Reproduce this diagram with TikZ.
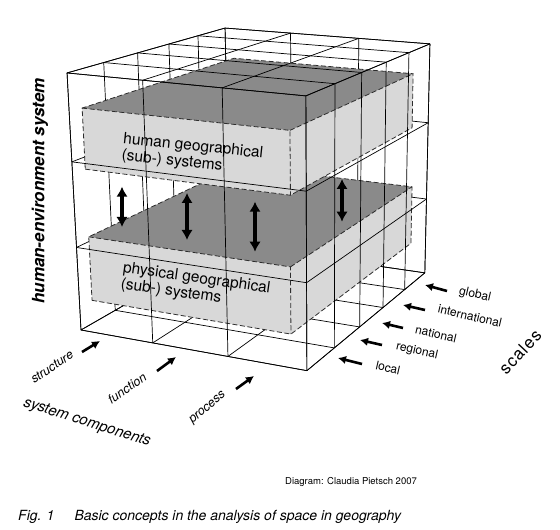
\documentclass[tikz,border=0pt]{standalone}
\usepackage{fontspec}
\setmainfont{TeX Gyre Heros}
\usetikzlibrary{arrows.meta}
\definecolor{topgray}{RGB}{138,138,138}
\definecolor{facegray}{RGB}{216,216,216}
\definecolor{edgegray}{RGB}{45,45,45}
\newcommand\cubept[3]{({px(#1,#2,#3)},{py(#1,#2,#3)})}
\newcommand\cubebox[6]{%
  \fill[facegray] \cubept{#1}{#3}{#5} -- \cubept{#2}{#3}{#5} -- \cubept{#2}{#3}{#6} -- \cubept{#1}{#3}{#6} -- cycle;
  \fill[facegray] \cubept{#2}{#3}{#5} -- \cubept{#2}{#4}{#5} -- \cubept{#2}{#4}{#6} -- \cubept{#2}{#3}{#6} -- cycle;
  \fill[topgray] \cubept{#1}{#3}{#6} -- \cubept{#2}{#3}{#6} -- \cubept{#2}{#4}{#6} -- \cubept{#1}{#4}{#6} -- cycle;
  \draw[boxedge] \cubept{#1}{#3}{#5} -- \cubept{#2}{#3}{#5} -- \cubept{#2}{#4}{#5} -- \cubept{#2}{#4}{#6} -- \cubept{#1}{#4}{#6} -- \cubept{#1}{#3}{#6} -- cycle;
  \draw[boxedge] \cubept{#1}{#3}{#6} -- \cubept{#2}{#3}{#6} -- \cubept{#2}{#3}{#5};
  \draw[boxedge] \cubept{#2}{#3}{#6} -- \cubept{#2}{#4}{#6};
}
\begin{document}
\begin{tikzpicture}[x=1pt,y=1pt,
  declare function={
    dd(\u,\v,\w)=1-0.0691*\u+0.1985*\v-0.05437*\w;
    px(\u,\v,\w)=(81+204.7*\u+194.1*\v-17.6*\w)/dd(\u,\v,\w);
    py(\u,\v,\w)=530-(330+15.06*\u-36.9*\v-261.0*\w)/dd(\u,\v,\w);
  },
  grid/.style={line width=0.7pt, black},
  boxedge/.style={line width=0.8pt, edgegray, dash pattern=on 5pt off 2.5pt},
  dbl/.style={line width=3.6pt, {Latex[length=10pt,width=11.5pt]}-{Latex[length=10pt,width=11.5pt]}},
  sarr/.style={line width=2.6pt, -{Latex[length=8pt,width=8.5pt]}},
  boxtxt/.style={font=\fontsize{15.5}{16.5}\selectfont, align=left, inner sep=0pt},
  comp/.style={font=\fontsize{12.5}{13}\selectfont\itshape, inner sep=0pt},
  scl/.style={font=\fontsize{12}{13}\selectfont, inner sep=0pt, rotate=-13},
]
\useasboundingbox (0,0) rectangle (560,530);
% hidden faces of the cube
\foreach \a in {0,1/3,2/3,1} {
  \draw[grid] \cubept{\a}{1}{0} -- \cubept{\a}{1}{1};
  \draw[grid] \cubept{0}{1}{\a} -- \cubept{1}{1}{\a};
  \draw[grid] \cubept{0}{0}{\a} -- \cubept{0}{1}{\a};
  \draw[grid] \cubept{\a}{0}{0} -- \cubept{\a}{1}{0};
}
\foreach \b in {0,0.2,0.4,0.6,0.8,1} {
  \draw[grid] \cubept{0}{\b}{0} -- \cubept{0}{\b}{1};
  \draw[grid] \cubept{0}{\b}{0} -- \cubept{1}{\b}{0};
}
% the two system boxes
\cubebox{0.06}{0.935}{0}{0.99}{0.13}{0.383}
\cubebox{0.06}{0.937}{0}{0.975}{0.645}{0.875}
% visible faces of the cube
\foreach \a in {0,1/3,2/3,1} {
  \draw[grid] \cubept{\a}{0}{0} -- \cubept{\a}{0}{1};
  \draw[grid] \cubept{0}{0}{\a} -- \cubept{1}{0}{\a};
  \draw[grid] \cubept{\a}{0}{1} -- \cubept{\a}{1}{1};
  \draw[grid] \cubept{1}{0}{\a} -- \cubept{1}{1}{\a};
}
\foreach \b in {0,0.2,0.4,0.6,0.8,1} {
  \draw[grid] \cubept{0}{\b}{1} -- \cubept{1}{\b}{1};
  \draw[grid] \cubept{1}{\b}{0} -- \cubept{1}{\b}{1};
}
% box texts
\node[boxtxt, anchor=north west, rotate=-6] (human) at (124,398) {human geographical\\(sub-) systems};
\node[boxtxt, anchor=north west, rotate=-8] (phys) at (124,269) {physical geographical\\(sub-) systems};
% double arrows
\coordinate (d1t) at (122,343.3); \coordinate (d1b) at (122,303);
\coordinate (d2t) at (187,337);   \coordinate (d2b) at (187,290);
\coordinate (d3t) at (255,328.3); \coordinate (d3b) at (255,278.3);
\coordinate (d4t) at (342,351);   \coordinate (d4b) at (342,308.3);
\draw[dbl] (d1b) -- (d1t);
\draw[dbl] (d2b) -- (d2t);
\draw[dbl] (d3b) -- (d3t);
\draw[dbl] (d4b) -- (d4t);
% vertical label
\node[font=\fontsize{17}{17}\selectfont\bfseries\itshape, rotate=90, inner sep=0pt] (hes) at (40,339) {human-environment system};
% system components
\node[comp, rotate=34] (structure) at (52,163) {structure};
\node[comp, rotate=35] (function) at (127,142) {function};
\node[comp, rotate=40] (process) at (208,122) {process};
\node[font=\fontsize{15}{15}\selectfont\itshape, rotate=-17.5, inner sep=0pt] (syscomp) at (87,107) {system components};
\coordinate (s1a) at (82,178);  \coordinate (s1b) at (100,189);
\coordinate (s2a) at (157,159); \coordinate (s2b) at (176,173);
\coordinate (s3a) at (236,141); \coordinate (s3b) at (254,154);
\draw[sarr] (s1a) -- (s1b);
\draw[sarr] (s2a) -- (s2b);
\draw[sarr] (s3a) -- (s3b);
% scales
\node[scl] (global) at (475,235) {global};
\node[scl] (intl) at (470,214) {international};
\node[scl] (natl) at (436,196) {national};
\node[scl] (regl) at (417,179) {regional};
\node[scl] (locl) at (388,162) {local};
\node[font=\fontsize{17}{17}\selectfont\addfontfeature{LetterSpace=6}, rotate=47, inner sep=0pt] (scales) at (520,178) {scales};
\coordinate (g1) at (447,239); \coordinate (g2) at (425,245);
\coordinate (i1) at (425,220); \coordinate (i2) at (403,225);
\coordinate (n1) at (403,202); \coordinate (n2) at (382,207);
\coordinate (r1) at (382,185); \coordinate (r2) at (360,190);
\coordinate (l1) at (362,166); \coordinate (l2) at (338,172);
\draw[sarr] (g1) -- (g2);
\draw[sarr] (i1) -- (i2);
\draw[sarr] (n1) -- (n2);
\draw[sarr] (r1) -- (r2);
\draw[sarr] (l1) -- (l2);
% credits and caption
\node[font=\fontsize{9.5}{10}\selectfont, anchor=base west, inner sep=0pt] (credit) at (285,45.5) {Diagram: Claudia Pietsch 2007};
\node[font=\fontsize{14}{14}\selectfont\itshape, anchor=base west, inner sep=0pt] (caption) at (18,9) {Fig. 1\hspace{20pt}Basic concepts in the analysis of space in geography};
\end{tikzpicture}
\end{document}
